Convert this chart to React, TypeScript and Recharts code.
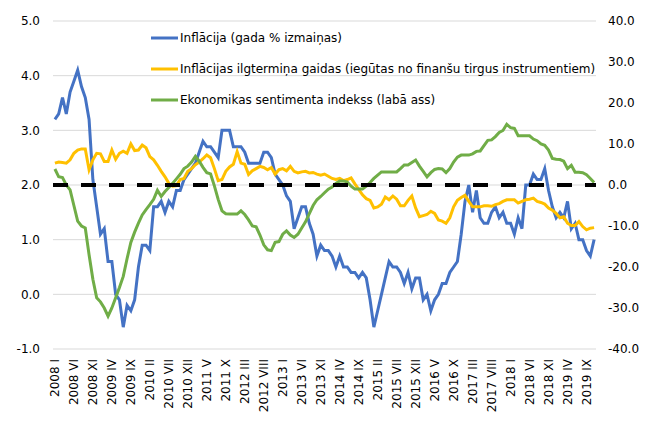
import React from 'react';
import { LineChart, Line, XAxis, YAxis, CartesianGrid, ReferenceLine, Legend } from 'recharts';

// Months: 2008 I ... 2019 XI
const startYear = 2008;
const romanMonths = ['I', 'II', 'III', 'IV', 'V', 'VI', 'VII', 'VIII', 'IX', 'X', 'XI', 'XII'];
const monthCount = 143;
const categories: string[] = Array.from({ length: monthCount }, (_, i) =>
  `${startYear + Math.floor(i / 12)} ${romanMonths[i % 12]}`
);

// Inflācija (gada % izmaiņas) — left axis
const inflation = [
  3.2, 3.3, 3.6, 3.3, 3.7, 3.9, 4.1, 3.8, 3.6, 3.2,
  2.1, 1.6, 1.1, 1.2, 0.6, 0.6, 0.0, -0.1, -0.6, -0.2,
  -0.3, -0.1, 0.5, 0.9, 0.9, 0.8, 1.6, 1.6, 1.7, 1.5,
  1.7, 1.6, 1.9, 1.9, 2.1, 2.2, 2.3, 2.4, 2.6, 2.8,
  2.7, 2.7, 2.6, 2.5, 3.0, 3.0, 3.0, 2.7, 2.7, 2.7,
  2.6, 2.4, 2.4, 2.4, 2.4, 2.6, 2.6, 2.5, 2.2, 2.1,
  2.0, 1.8, 1.7, 1.2, 1.4, 1.6, 1.6, 1.3, 1.1, 0.7,
  0.9, 0.8, 0.8, 0.7, 0.5, 0.7, 0.5, 0.5, 0.4, 0.4,
  0.3, 0.4, 0.3, -0.1, -0.6, -0.3, 0.0, 0.3, 0.6, 0.5,
  0.5, 0.4, 0.2, 0.4, 0.1, 0.3, 0.3, -0.1, 0.0, -0.3,
  -0.1, 0.0, 0.2, 0.2, 0.4, 0.5, 0.6, 1.1, 1.7, 2.0,
  1.5, 1.9, 1.4, 1.3, 1.3, 1.5, 1.6, 1.4, 1.5, 1.3,
  1.3, 1.1, 1.4, 1.2, 2.0, 2.0, 2.2, 2.1, 2.1, 2.3,
  1.9, 1.6, 1.4, 1.5, 1.4, 1.7, 1.2, 1.3, 1.0, 1.0,
  0.8, 0.7, 1.0,
];

// Inflācijas ilgtermiņa gaidas — left axis
const expectations = [
  2.40, 2.42, 2.41, 2.40, 2.46, 2.58, 2.64, 2.66, 2.66, 2.28,
  2.46, 2.58, 2.57, 2.43, 2.43, 2.64, 2.47, 2.58, 2.62, 2.58,
  2.75, 2.63, 2.64, 2.73, 2.68, 2.52, 2.46, 2.36, 2.25, 2.15,
  2.03, 1.98, 1.99, 2.10, 2.12, 2.25, 2.30, 2.37, 2.42, 2.48,
  2.55, 2.50, 2.30, 2.08, 2.10, 2.25, 2.33, 2.38, 2.61, 2.40,
  2.38, 2.19, 2.26, 2.30, 2.34, 2.32, 2.28, 2.32, 2.20, 2.28,
  2.30, 2.26, 2.34, 2.25, 2.22, 2.24, 2.25, 2.22, 2.23, 2.20,
  2.18, 2.20, 2.16, 2.12, 2.10, 2.12, 2.08, 2.10, 2.13, 2.02,
  1.92, 1.82, 1.75, 1.72, 1.58, 1.60, 1.65, 1.78, 1.73, 1.80,
  1.74, 1.62, 1.62, 1.72, 1.80, 1.58, 1.42, 1.44, 1.46, 1.52,
  1.48, 1.36, 1.34, 1.30, 1.40, 1.60, 1.72, 1.77, 1.81, 1.70,
  1.60, 1.60, 1.60, 1.62, 1.62, 1.61, 1.64, 1.66, 1.70, 1.73,
  1.73, 1.73, 1.67, 1.70, 1.73, 1.74, 1.76, 1.70, 1.68, 1.65,
  1.58, 1.54, 1.48, 1.40, 1.42, 1.30, 1.26, 1.26, 1.33, 1.24,
  1.18, 1.21, 1.22,
];

// Ekonomikas sentimenta indekss — right axis
const sentiment = [
  3.9, 2.0, 1.8, 0.0, -1.2, -5.0, -8.8, -10.0, -10.5, -17.0,
  -23.0, -27.5, -28.5, -30.0, -32.0, -30.0, -27.5, -25.0, -22.3, -18.0,
  -14.0, -11.5, -9.3, -7.3, -6.0, -4.8, -3.5, -1.3, -2.8, -1.6,
  -0.6, 0.4, 1.5, 2.6, 4.0, 4.6, 5.6, 7.0, 5.8, 4.3,
  3.0, 2.7, -0.2, -3.5, -6.3, -7.0, -7.1, -7.1, -7.1, -6.3,
  -7.2, -8.5, -10.0, -10.2, -12.2, -14.6, -15.8, -16.0, -14.0, -13.8,
  -12.0, -11.2, -12.2, -12.8, -12.0, -10.5, -9.0, -7.0, -5.0, -3.6,
  -2.8, -1.9, -1.0, -0.5, 0.4, 1.0, 1.0, 0.7, -0.3, -1.0,
  -1.0, -1.0, -0.3, 0.6, 1.6, 2.4, 3.2, 3.2, 3.2, 3.2,
  3.2, 4.0, 4.9, 4.9, 5.5, 6.1, 4.6, 3.3, 2.0, 3.0,
  3.8, 4.0, 3.9, 3.0, 4.0, 5.6, 6.8, 7.3, 7.3, 7.3,
  7.6, 8.2, 8.3, 9.6, 10.9, 11.0, 11.8, 12.8, 13.3, 14.8,
  14.0, 13.8, 12.0, 12.0, 12.0, 12.0, 11.2, 10.8, 10.0, 9.7,
  8.5, 6.5, 6.3, 6.2, 5.8, 4.0, 4.8, 3.1, 3.1, 3.0,
  2.5, 1.6, 0.6,
];

const leftTicks = [-1, 0, 1, 2, 3, 4, 5];
const rightTicks = [-40, -30, -20, -10, 0, 10, 20, 30, 40];
const referenceLevel = 2.0;

const seriesNames = {
  inflation: 'Inflācija (gada % izmaiņas)',
  expectations: 'Inflācijas ilgtermiņa gaidas (iegūtas no finanšu tirgus instrumentiem)',
  sentiment: 'Ekonomikas sentimenta indekss (labā ass)',
};
const legendOrder = ['inflation', 'expectations', 'sentiment'];

const data = categories.map((label, i) => ({
  label,
  inflation: inflation[i],
  expectations: expectations[i],
  sentiment: sentiment[i],
}));

const FONT = '"DejaVu Sans", sans-serif';

const XTick = (props: any) => {
  const { x, y, payload } = props;
  return (
    <g transform={`translate(${x},${y})`}>
      <text
        transform="rotate(-90)"
        textAnchor="end"
        dy="0.36em"
        fontSize={12}
        fontFamily={FONT}
        fill="#000"
      >
        {payload.value}
      </text>
    </g>
  );
};

const renderLegend = (props: any) => {
  const payload = (props.payload || [])
    .filter((p: any) => legendOrder.includes(p.dataKey))
    .sort((a: any, b: any) => legendOrder.indexOf(a.dataKey) - legendOrder.indexOf(b.dataKey));
  return (
    <div style={{ fontFamily: FONT, fontSize: 12, color: '#000' }}>
      {payload.map((p: any) => (
        <div
          key={p.dataKey}
          style={{ display: 'flex', alignItems: 'center', height: 30.7, whiteSpace: 'nowrap' }}
        >
          <svg width={27} height={4} style={{ display: 'block' }}>
            <line x1={0} y1={2} x2={27} y2={2} stroke={p.color} strokeWidth={3} />
          </svg>
          <span style={{ marginLeft: 2 }}>{p.value}</span>
        </div>
      ))}
    </div>
  );
};

export default function App() {
  return (
    <div style={{ position: 'absolute', left: 0, top: 0, width: 662, height: 428, background: '#fff' }}>
      <LineChart
        width={662}
        height={428}
        data={data}
        margin={{ top: 21, right: 0, bottom: 0, left: 0 }}
      >
        <CartesianGrid yAxisId="left" vertical={false} stroke="#D9D9D9" strokeWidth={1} />
        <XAxis
          dataKey="label"
          scale="band"
          interval={4}
          height={79}
          tickSize={0}
          tickMargin={10}
          axisLine={false}
          tickLine={false}
          tick={<XTick />}
        />
        <YAxis
          yAxisId="left"
          domain={[-1, 5]}
          ticks={leftTicks}
          width={53}
          tickSize={0}
          tickMargin={13}
          axisLine={false}
          tickLine={false}
          tickFormatter={(v: number) => v.toFixed(1)}
          tick={{ fontSize: 12, fontFamily: FONT, fill: '#000' }}
        />
        <YAxis
          yAxisId="right"
          orientation="right"
          domain={[-40, 40]}
          ticks={rightTicks}
          width={66}
          tickSize={0}
          tickMargin={12}
          axisLine={false}
          tickLine={false}
          tickFormatter={(v: number) => v.toFixed(1)}
          tick={{ fontSize: 12, fontFamily: FONT, fill: '#000' }}
        />
        <Legend
          layout="vertical"
          verticalAlign="middle"
          align="center"
          itemSorter={null as any}
          content={renderLegend}
          wrapperStyle={{ left: 151, top: 23, width: 'auto' }}
        />
        <Line
          yAxisId="left"
          type="linear"
          dataKey="inflation"
          name={seriesNames.inflation}
          stroke="#4472C4"
          strokeWidth={3}
          dot={false}
          activeDot={false}
          isAnimationActive={false}
        />
        <Line
          yAxisId="left"
          type="linear"
          dataKey="expectations"
          name={seriesNames.expectations}
          stroke="#FFC000"
          strokeWidth={3}
          dot={false}
          activeDot={false}
          isAnimationActive={false}
        />
        <Line
          yAxisId="right"
          type="linear"
          dataKey="sentiment"
          name={seriesNames.sentiment}
          stroke="#70AD47"
          strokeWidth={3}
          dot={false}
          activeDot={false}
          isAnimationActive={false}
        />
        <ReferenceLine
          yAxisId="left"
          y={referenceLevel}
          stroke="#000"
          strokeWidth={4}
          strokeDasharray="15 13"
        />
      </LineChart>
    </div>
  );
}
